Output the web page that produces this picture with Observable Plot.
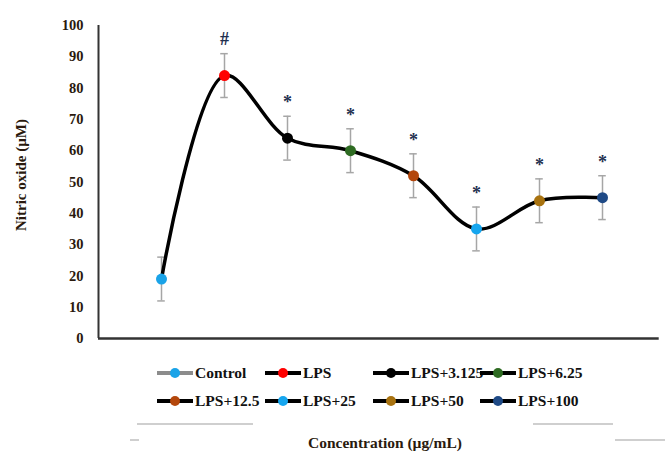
<!DOCTYPE html>
<html>
<head>
<meta charset="utf-8">
<script src="https://cdn.jsdelivr.net/npm/d3@7"></script>
<script src="https://cdn.jsdelivr.net/npm/@observablehq/plot@0.6"></script>
<style>
  html, body { margin: 0; padding: 0; background: #fff; }
  #wrap { position: relative; width: 665px; height: 455px; overflow: hidden; font-family: "Liberation Serif", "Times New Roman", serif; }
  #chart { position: absolute; left: 0; top: 0; }
  .leg { position: absolute; display: flex; align-items: center; font-weight: bold; font-size: 15.5px; color: #111; white-space: nowrap; }
  .leg svg { margin-right: 2px; }
  .deco { position: absolute; height: 1.5px; background: #cfcfcf; }
  #xtitle { position: absolute; top: 434px; left: 0; width: 770px; text-align: center; font-weight: bold; font-size: 15.5px; color: #2a1a0e; }
  #ytitle { position: absolute; left: 21px; top: 175px; transform: translate(-50%, -50%) rotate(-90deg); font-weight: bold; font-size: 15px; color: #2a1a0e; white-space: nowrap; }
</style>
</head>
<body>
<div id="wrap">
  <div id="chart"></div>
  <div id="ytitle">Nitric oxide (µM)</div>
  <div id="xtitle">Concentration (µg/mL)</div>
</div>
<script>
const categories = ["Control", "LPS", "LPS+3.125", "LPS+6.25", "LPS+12.5", "LPS+25", "LPS+50", "LPS+100"];
const values = [19, 84, 64, 60, 52, 35, 44, 45];
const errors = [7, 7, 7, 7, 7, 7, 7, 7];
const signif = ["", "#", "*", "*", "*", "*", "*", "*"];
const dotColors = ["#1aa3e8", "#ff0000", "#000000", "#2e6b22", "#b4470c", "#16a6ef", "#a8720f", "#1f4a86"];
const legendLineColors = ["#8c8c8c", "#000", "#000", "#000", "#000", "#000", "#000", "#000"];
const yTicks = [0, 10, 20, 30, 40, 50, 60, 70, 80, 90, 100];

const data = categories.map((c, k) => ({ cat: c, i: k + 1, v: values[k], e: errors[k], s: signif[k], color: dotColors[k] }));

const plot = Plot.plot({
  width: 665,
  height: 345,
  marginLeft: 98,
  marginRight: 0,
  marginTop: 25,
  marginBottom: 7,
  style: { fontFamily: "Liberation Serif, serif", fontWeight: "bold", fontSize: "14.5px", color: "#2a1a0e", background: "transparent" },
  x: { domain: [0, 9], axis: null },
  y: { domain: [0, 100], ticks: yTicks, tickSize: 0, tickPadding: 15, label: null },
  marks: [
    Plot.ruleY([0], { x1: 0, x2: 8.9, stroke: "#333", strokeWidth: 2.5 }),
    Plot.ruleX([0], { y1: 0, y2: 100, stroke: "#333", strokeWidth: 2 }),
    Plot.ruleX(data, { x: "i", y1: d => d.v - d.e, y2: d => d.v + d.e, stroke: "#a6a6a6", strokeWidth: 1.5 }),
    Plot.ruleY(data, { y: d => d.v + d.e, x1: d => d.i - 0.06, x2: d => d.i + 0.06, stroke: "#a6a6a6", strokeWidth: 1.5 }),
    Plot.ruleY(data, { y: d => d.v - d.e, x1: d => d.i - 0.06, x2: d => d.i + 0.06, stroke: "#a6a6a6", strokeWidth: 1.5 }),
    Plot.line(data, { x: "i", y: "v", curve: "catmull-rom", stroke: "#000", strokeWidth: 3.5 }),
    Plot.dot(data, { x: "i", y: "v", r: 5.5, fill: "color", stroke: null }),
    Plot.text(data, { x: "i", y: d => d.v + d.e, text: "s", dy: -14, fill: "#1f3050", fontSize: 18, fontWeight: "bold" })
  ]
});
document.getElementById("chart").appendChild(plot);

// Legend (HTML) built from the same arrays
const wrap = document.getElementById("wrap");
const colX = [157, 265, 373, 480];
const rowY = [373, 401];
categories.forEach((c, k) => {
  const row = Math.floor(k / 4), col = k % 4;
  const div = document.createElement("div");
  div.className = "leg";
  div.style.left = colX[col] + "px";
  div.style.top = (rowY[row] - 10) + "px";
  div.style.height = "20px";
  div.innerHTML = `<svg width="36" height="14"><line x1="0" x2="36" y1="7" y2="7" stroke="${legendLineColors[k]}" stroke-width="4"/><circle cx="18" cy="7" r="5" fill="${dotColors[k]}"/></svg>${c}`;
  wrap.appendChild(div);
});

// faint decorative rules seen in the reference
[[137, 423, 116], [533, 423, 80], [130, 439, 9], [615, 439, 50]].forEach(([x, y, w]) => {
  const d = document.createElement("div");
  d.className = "deco";
  d.style.left = x + "px"; d.style.top = y + "px"; d.style.width = w + "px";
  wrap.appendChild(d);
});
</script>
</body>
</html>
